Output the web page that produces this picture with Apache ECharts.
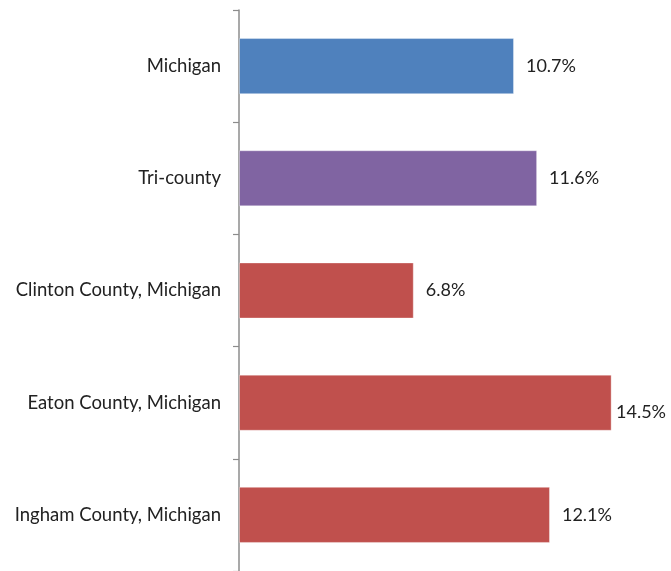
<!DOCTYPE html>
<html>
<head>
<meta charset="utf-8">
<script src="https://cdn.jsdelivr.net/npm/echarts@6/dist/echarts.min.js"></script>
<style>
  html, body { margin: 0; padding: 0; background: #fff; }
  #chart { width: 671px; height: 571px; }
</style>
</head>
<body>
<div id="chart"></div>
<script>
// Share of population, by area (percent)
const categories = [
  'Michigan',
  'Tri-county',
  'Clinton County, Michigan',
  'Eaton County, Michigan',
  'Ingham County, Michigan'
];
const values = [10.7, 11.6, 6.8, 14.5, 12.1];
const barColors = ['#4F81BD', '#8064A2', '#C0504D', '#C0504D', '#C0504D'];

const FONT = 'Lato, "Open Sans", sans-serif';
const CHART_W = 671;

const chart = echarts.init(document.getElementById('chart'), null, { renderer: 'canvas' });

chart.setOption({
  animation: false,
  backgroundColor: '#ffffff',
  grid: { left: 239, top: 10, height: 565, width: 411.2, containLabel: false },
  xAxis: {
    type: 'value',
    min: 0,
    max: 16,
    show: false
  },
  yAxis: {
    type: 'category',
    inverse: true,
    data: categories,
    axisLine: { show: true, lineStyle: { color: '#8c8c8c', width: 1.5 } },
    axisTick: { show: true, length: 6, inside: false, lineStyle: { color: '#8c8c8c', width: 1.2 } },
    axisLabel: { color: '#222222', fontSize: 18.5, fontFamily: FONT, margin: 18 },
    splitLine: { show: false }
  },
  series: [{
    type: 'bar',
    barWidth: '50%',
    data: values.map((v, i) => ({
      value: v,
      itemStyle: { color: barColors[i], borderColor: 'rgba(255,255,255,0.35)', borderWidth: 1 }
    })),
    label: {
      show: true,
      position: 'right',
      distance: 12,
      color: '#222222',
      fontSize: 18,
      fontFamily: FONT,
      formatter: p => p.value.toFixed(1) + '%'
    },
    // keep value labels inside the canvas: slide them left when they would overflow
    labelLayout: function (params) {
      const r = params.labelRect;
      const limit = CHART_W - 5;
      if (r.x + r.width > limit) {
        return { x: limit - r.width };
      }
    }
  }]
});
</script>
</body>
</html>
